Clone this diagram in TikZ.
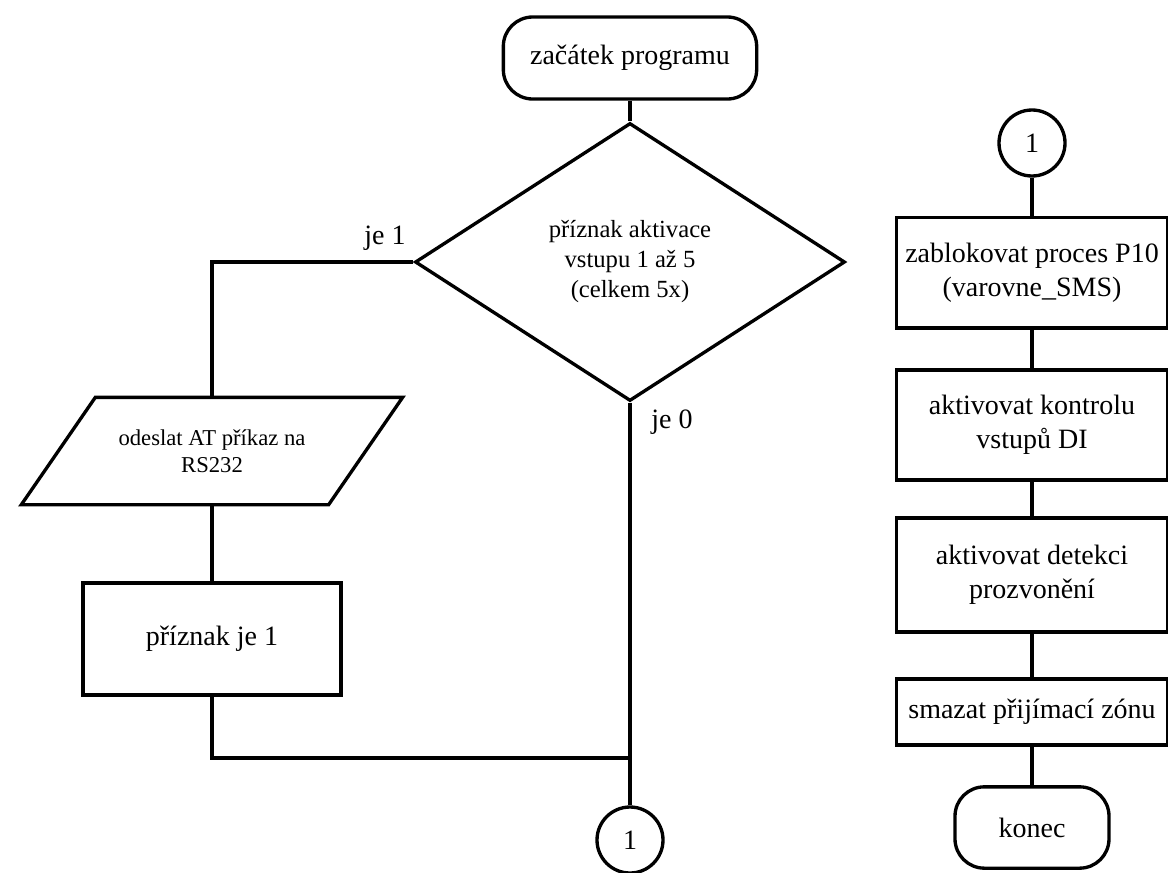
\documentclass[tikz,border=0pt]{standalone}
\usepackage{fontspec}
\setmainfont{Liberation Serif}
\usetikzlibrary{shapes.geometric,calc}
\begin{document}
\begin{tikzpicture}[x=0.75pt,y=-0.75pt,line width=2.5pt,
  bigtext/.style={font=\fontsize{21}{25.5}\selectfont},
  term/.style={draw, rectangle, rounded corners=22pt, align=center, inner sep=0pt, bigtext},
  proc/.style={draw, rectangle, align=center, inner sep=0pt, bigtext},
  decision/.style={draw, diamond, align=center, inner sep=0pt,
    font=\fontsize{18.5}{22.5}\selectfont},
  iobox/.style={rectangle, align=center, inner sep=0pt,
    font=\fontsize{17}{20}\selectfont},
  joint/.style={draw, circle, minimum size=49.5pt, inner sep=0pt, bigtext},
  branch/.style={inner sep=0pt, bigtext}
]
\useasboundingbox (0,0) rectangle (1168,872);

% main column
\node[term, minimum width=190pt, minimum height=61.5pt] (start) at (630,58) {začátek programu};
\node[decision, minimum width=322.5pt, minimum height=208.5pt] (dec) at (630,262)
  {příznak aktivace\\vstupu 1 až 5\\(celkem 5x)};
\node[iobox, minimum width=228pt, minimum height=78pt] (send) at (212,451)
  {odeslat AT příkaz na\\RS232};
\draw ($(send.north west)+(37,0)$) -- ($(send.north east)+(37,0)$)
  -- ($(send.south east)+(-37,0)$) -- ($(send.south west)+(-37,0)$) -- cycle;
\node[proc, minimum width=193.5pt, minimum height=84pt] (flag) at (212,639) {příznak je 1};
\node[joint] (outc) at (630,840) {1};
\coordinate (merge) at (630,758);

\node[branch] (yes) at (385,238) {je 1};
\node[branch] (no) at (672,422) {je 0};

\draw (start.south) -- (dec.north);
\draw (dec.west) -| (send.north);
\draw (send.south) -- (flag.north);
\draw (flag.south) |- (merge);
\draw (dec.south) -- (outc.north);

% continuation column
\node[joint] (inc) at (1032,143) {1};
\node[proc, minimum width=203pt, minimum height=83pt] (blk) at (1032,272.5)
  {zablokovat proces P10\\(varovne\_SMS)};
\node[proc, minimum width=203pt, minimum height=82.5pt] (chk) at (1032,425)
  {aktivovat kontrolu\\vstupů DI};
\node[proc, minimum width=203pt, minimum height=85.5pt] (ring) at (1032,575)
  {aktivovat detekci\\prozvonění};
\node[proc, minimum width=203pt, minimum height=49.5pt] (clr) at (1032,712)
  {smazat přijímací zónu};
\node[term, minimum width=115.5pt, minimum height=61pt] (stop) at (1032,827.5) {konec};

\draw (inc.south) -- (blk.north);
\draw (blk.south) -- (chk.north);
\draw (chk.south) -- (ring.north);
\draw (ring.south) -- (clr.north);
\draw (clr.south) -- (stop.north);
\end{tikzpicture}
\end{document}
